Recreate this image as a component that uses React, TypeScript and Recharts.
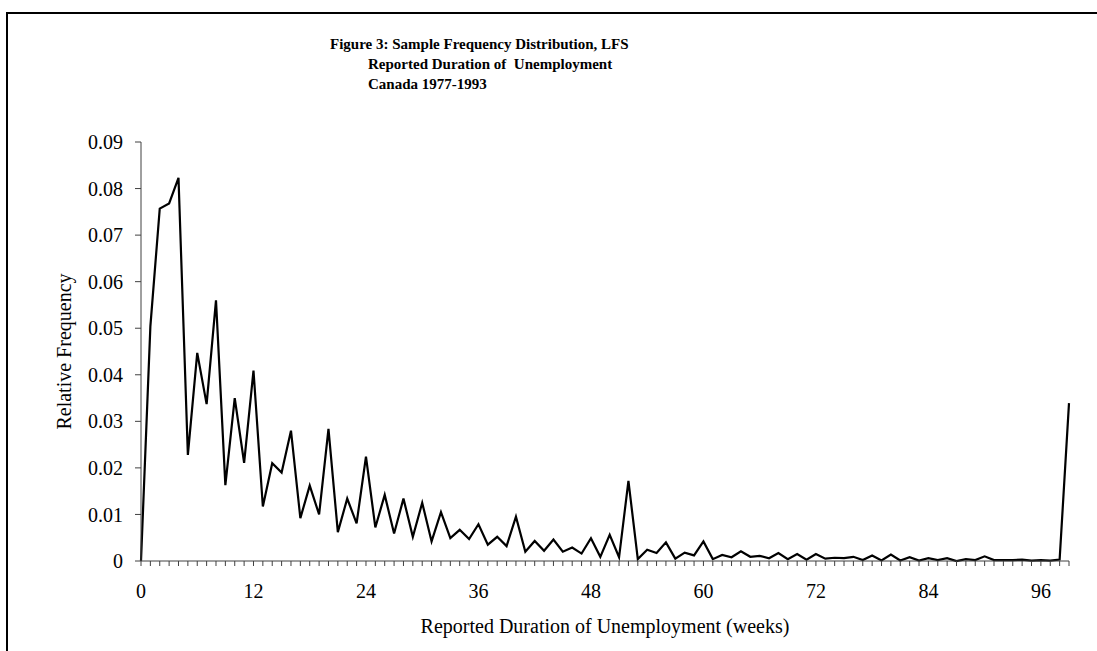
import { LineChart, Line, XAxis, YAxis, Label } from 'recharts';

const weeks = Array.from({ length: 100 }, (_, i) => i);

const freq = [
    0, 0.0504, 0.0757, 0.0768, 0.0823, 0.0228, 0.0447, 0.0337, 0.0560, 0.0163,
    0.0350, 0.0211, 0.0409, 0.0117, 0.0210, 0.0190, 0.0280, 0.0092, 0.0162, 0.0100,
    0.0284, 0.0062, 0.0134, 0.0081, 0.0224, 0.0072, 0.0142, 0.0059, 0.0134, 0.0052,
    0.0125, 0.0042, 0.0105, 0.0049, 0.0067, 0.0047, 0.0079, 0.0035, 0.0052, 0.0032,
    0.0095, 0.0020, 0.0043, 0.0022, 0.0046, 0.0020, 0.0029, 0.0016, 0.0049, 0.0009,
    0.0056, 0.0008, 0.0172, 0.0004, 0.0024, 0.0017, 0.0040, 0.0005, 0.0018, 0.0012,
    0.0042, 0.0004, 0.0013, 0.0008, 0.0021, 0.0009, 0.0011, 0.0006, 0.0017, 0.0004,
    0.0015, 0.0003, 0.0015, 0.0005, 0.0007, 0.0006, 0.0009, 0.0002, 0.0012, 0.0001,
    0.0014, 0.0001, 0.0008, 0.0001, 0.0006, 0.0002, 0.0006, 0.0000, 0.0004, 0.0002,
    0.0010, 0.0002, 0.0002, 0.0002, 0.0003, 0.0001, 0.0002, 0.0001, 0.0003, 0.0339,
];

const yTicks = [0, 0.01, 0.02, 0.03, 0.04, 0.05, 0.06, 0.07, 0.08, 0.09];
const yTickLabels = ['0', '0.01', '0.02', '0.03', '0.04', '0.05', '0.06', '0.07', '0.08', '0.09'];

const titleLines = [
    'Figure 3: Sample Frequency Distribution, LFS',
    'Reported Duration of  Unemployment',
    'Canada 1977-1993',
];

const data = weeks.map((w, i) => ({ week: w, freq: freq[i] }));

const FONT = '"Liberation Serif", "Times New Roman", serif';

export default function App() {
    return (
        <div style={{ position: 'absolute', top: 0, left: 0, width: 1097, height: 651, background: '#fff', fontFamily: FONT }}>
            {/* frame */}
            <div style={{ position: 'absolute', left: 6, top: 12, width: 1091, height: 2, background: '#000' }} />
            <div style={{ position: 'absolute', left: 6, top: 12, width: 1.5, height: 639, background: '#000' }} />

            {/* title */}
            <div style={{ position: 'absolute', left: 330, top: 34, fontSize: 15, fontWeight: 'bold', whiteSpace: 'pre', lineHeight: '20px' }}>
                <div>{titleLines[0]}</div>
                <div style={{ paddingLeft: 38 }}>{titleLines[1]}</div>
                <div style={{ paddingLeft: 38 }}>{titleLines[2]}</div>
            </div>

            <LineChart
                width={1097}
                height={651}
                data={data}
                margin={{ top: 142, right: 28, bottom: 60, left: 61 }}
                style={{ position: 'absolute', top: 0, left: 0 }}
            >
                <XAxis
                    dataKey="week"
                    type="number"
                    domain={[0, 99]}
                    ticks={weeks}
                    interval={0}
                    height={30}
                    tickSize={5}
                    tickMargin={18}
                    tickFormatter={(w: number) => (w % 12 === 0 ? String(w) : '')}
                    tick={{ fill: '#000', fontSize: 20, fontFamily: FONT }}
                    stroke="#404040"
                >
                    <Label
                        content={({ viewBox }: any) => (
                            <text x={viewBox.x + viewBox.width / 2} y={viewBox.y + 72} textAnchor="middle" fontSize={20} fontFamily={FONT} fill="#000">
                                Reported Duration of Unemployment (weeks)
                            </text>
                        )}
                    />
                </XAxis>
                <YAxis
                    type="number"
                    domain={[0, 0.09]}
                    ticks={yTicks}
                    interval={0}
                    width={80}
                    tickSize={6}
                    tickMargin={12}
                    tickFormatter={(v: number) => yTickLabels[yTicks.indexOf(v)] ?? String(v)}
                    tick={{ fill: '#000', fontSize: 20, fontFamily: FONT }}
                    stroke="#404040"
                >
                    <Label
                        content={({ viewBox }: any) => {
                            const cx = 66;
                            const cy = viewBox.y + viewBox.height / 2;
                            return (
                                <text x={cx} y={cy} transform={`rotate(-90 ${cx} ${cy})`} textAnchor="middle" dominantBaseline="middle" fontSize={20} fontFamily={FONT} fill="#000">
                                    Relative Frequency
                                </text>
                            );
                        }}
                    />
                </YAxis>
                <Line
                    type="linear"
                    dataKey="freq"
                    stroke="#000"
                    strokeWidth={2.2}
                    dot={false}
                    activeDot={false}
                    isAnimationActive={false}
                />
            </LineChart>
        </div>
    );
}
